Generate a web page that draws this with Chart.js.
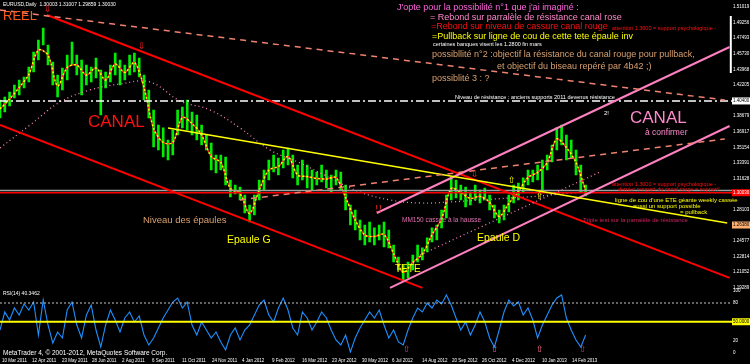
<!DOCTYPE html>
<html>
<head>
<meta charset="utf-8">
<script src="https://cdn.jsdelivr.net/npm/chart.js@4.4.1/dist/chart.umd.min.js"></script>
<style>
  html, body { margin: 0; padding: 0; background: #000; }
  #wrap { width: 750px; height: 364px; }
</style>
</head>
<body>
<div id="wrap"><canvas id="eurusd" width="750" height="364"></canvas></div>
<script>
// EURUSD Daily, mars 2011 -> fev 2013, one bar read every 4 days off the screenshot
var candleStep = 4;
var candleHigh = [
  1.4051,1.4085,1.4141,1.4220,1.4277,1.4311,1.4424,1.4593,1.4729,1.4865,
  1.4672,1.4480,1.4333,1.4412,1.4559,1.4706,1.4559,1.4503,1.4446,1.4424,
  1.4526,1.4390,1.4367,1.4446,1.4582,1.4503,1.4446,1.4559,1.4582,1.4526,
  1.4333,1.4164,1.3938,1.3768,1.3735,1.3599,1.3712,1.3938,1.3972,1.4051,
  1.3915,1.3881,1.3768,1.3655,1.3565,1.3429,1.3429,1.3407,1.3147,1.3090,
  1.3068,1.2977,1.2864,1.2977,1.3147,1.3260,1.3373,1.3429,1.3395,1.3486,
  1.3508,1.3429,1.3316,1.3373,1.3316,1.3260,1.3237,1.3316,1.3260,1.3203,
  1.3260,1.3237,1.3090,1.2864,1.2808,1.2695,1.2638,1.2672,1.2605,1.2638,
  1.2672,1.2582,1.2412,1.2277,1.2186,1.2220,1.2299,1.2412,1.2379,1.2492,
  1.2605,1.2638,1.2808,1.2977,1.3181,1.3147,1.3090,1.3068,1.3011,1.3090,
  1.3034,1.3056,1.2977,1.2864,1.2808,1.2864,1.2977,1.3090,1.3113,1.3170,
  1.3260,1.3260,1.3316,1.3373,1.3429,1.3542,1.3735,1.3768,1.3655,1.3599,
  1.3486,1.3316,1.3090
];
var candleLow = [
  1.3848,1.3915,1.3983,1.4073,1.4107,1.4187,1.4254,1.4367,1.4503,1.4672,
  1.4446,1.4220,1.4085,1.4164,1.4277,1.4446,1.4333,1.4107,1.4220,1.4254,
  1.4300,1.3881,1.4187,1.4254,1.4333,1.4220,1.4277,1.4333,1.4367,1.4311,
  1.4051,1.3848,1.3520,1.3486,1.3407,1.3373,1.3429,1.3655,1.3735,1.3712,
  1.3655,1.3599,1.3542,1.3486,1.3260,1.3226,1.3260,1.3090,1.2955,1.2989,
  1.2921,1.2774,1.2672,1.2751,1.2921,1.3034,1.3147,1.3237,1.3203,1.3283,
  1.3316,1.3170,1.3090,1.3147,1.3056,1.3034,1.3090,1.3124,1.3056,1.3011,
  1.3090,1.3034,1.2808,1.2638,1.2582,1.2469,1.2412,1.2446,1.2412,1.2469,
  1.2390,1.2379,1.2220,1.2130,1.2017,1.2040,1.2130,1.2220,1.2243,1.2333,
  1.2446,1.2469,1.2605,1.2718,1.2921,1.2943,1.2921,1.2842,1.2864,1.2921,
  1.2887,1.2921,1.2808,1.2718,1.2661,1.2695,1.2785,1.2887,1.2921,1.3011,
  1.3090,1.3124,1.3147,1.3034,1.3260,1.3350,1.3486,1.3542,1.3373,1.3395,
  1.3203,1.3011,1.2966
];

// moyenne mobile pointillee rouge/jaune, un point tous les 8 jours
var maStep = 8;
var maValues = [
  1.3950,1.4062,1.4192,1.4339,1.4616,1.4559,1.4209,1.4418,1.4446,1.4333,
  1.4413,1.4277,1.4458,1.4362,1.4475,1.4192,1.3729,1.3571,1.3571,1.3854,
  1.3785,1.3655,1.3413,1.3345,1.3051,1.2995,1.2768,1.3034,1.3260,1.3299,
  1.3412,1.3203,1.3186,1.3164,1.3158,1.3175,1.2949,1.2695,1.2525,1.2509,
  1.2531,1.2316,1.2102,1.2215,1.2311,1.2526,1.2707,1.3051,1.3006,1.2938,
  1.2961,1.2893,1.2735,1.2881,1.3017,1.3175,1.3232,1.3345,1.3611,1.3514,
  1.3345,1.3028
];

// MM150 (pointilles roses)
var mm150Days = [0,25,50,75,100,125,150,175,200,225,250,275,300,325,350,375,400,425,450,475,487];
var mm150Values = [1.3509,1.3768,1.4028,1.4164,1.4232,1.4254,1.4040,1.3938,1.3735,1.3486,
                   1.3339,1.3170,1.3011,1.2921,1.2887,1.2898,1.2921,1.2943,1.2966,1.3000,1.3011];

// oscillateur du bas (0-100), meme pas que les bougies
var oscValues = [
  36.8,65.6,52.8,72,60.8,78.4,68.8,81.6,28.8,84.8,
  44.8,16,33.6,24,68.8,81.6,44.8,24,60.8,76.8,
  36.8,9.6,44.8,68.8,52.8,33.6,56,65.6,49.6,59.2,
  28.8,12.8,24,40,56,68.8,81.6,88,72,81.6,
  44.8,28.8,49.6,36.8,24,33.6,17.6,4.8,28.8,40,
  20.8,36.8,44.8,60.8,76.8,84.8,60.8,49.6,72,88,
  68.8,40,28.8,65.6,56,36.8,49.6,65.6,56,36.8,
  20.8,12.8,28.8,1.6,24,40,52.8,65.6,56,68.8,
  44.8,24,36.8,17.6,12.8,36.8,56,72,65.6,80,
  72,84.8,78.4,92.8,76.8,56,36.8,49.6,28.8,44.8,
  65.6,49.6,24,9.6,36.8,65.6,84.8,75.2,81.6,60.8,
  72,52.8,24,44.8,60.8,76.8,88,92.8,56,36.8,
  20.8,9.6,28.8
];
var oscLevelHigh = 80;
var oscLevelMid = 50;

// lignes tracees (jour, prix)
var canalRougeHaut = [{x: 39, y: 1.5012}, {x: 608, y: 1.2040}];
var canalRougeBas  = [{x: 0, y: 1.3768}, {x: 352, y: 1.1927}];
var canalRoseHaut  = [{x: 314, y: 1.2774}, {x: 608, y: 1.4650}];
var canalRoseBas   = [{x: 325, y: 1.1927}, {x: 608, y: 1.3757}];
var ligneDeCou     = [{x: 140, y: 1.3735}, {x: 606, y: 1.2661}];
var tirets1        = [{x: 0, y: 1.5068}, {x: 604, y: 1.4051}];
var tirets2        = [{x: 200, y: 1.2921}, {x: 604, y: 1.3610}];
var eventailRose   = [{x: 350, y: 1.2299}, {x: 500, y: 1.3237}];
var barreBlanche   = [{x: 609, y: 1.5000}, {x: 609, y: 1.4356}];
var niveauBlanc = 1.4040;
var niveauGris = 1.3027;
var bid = 1.3003;
var niveauOrange = 1.2638;

var priceTicks = [1.51019,1.49256,1.47493,1.45730,1.43968,1.42205,1.40442,1.38679,1.36917,1.35154,
                  1.33391,1.31628,1.29865,1.28103,1.26340,1.24577,1.22814,1.21052,1.19289];
var oscTicks = [0, 20, 80, 100];
var dateLabels = ['10 Mar 2011','12 Apr 2011','23 May 2011','28 Jun 2011','2 Aug 2011','6 Sep 2011',
                  '11 Oct 2011','24 Nov 2011','4 Jan 2012','9 Feb 2012','16 Mar 2012','23 Apr 2012',
                  '30 May 2012','6 Jul 2012','14 Aug 2012','20 Sep 2012','26 Oct 2012','4 Dec 2012',
                  '10 Jan 2013','14 Feb 2013'];
var dateStep = 25;
var dayMax = 610;

var FONT = '"Liberation Sans", Arial, sans-serif';

function hline(v) { return [{x: 0, y: v}, {x: dayMax, y: v}]; }
function seg(data, color, width, dash, order) {
  return { type: 'line', data: data, borderColor: color, borderWidth: width, borderDash: dash || [],
           pointRadius: 0, fill: false, tension: 0, yAxisID: 'y', order: order || 2 };
}

var candles = candleHigh.map(function (h, i) { return {x: i * candleStep, y: [candleLow[i], h]}; });
var maPts = maValues.map(function (v, i) { return {x: i * maStep, y: v}; });
var mm150Pts = mm150Values.map(function (v, i) { return {x: mm150Days[i], y: v}; });
var oscPts = oscValues.map(function (v, i) { return {x: i * candleStep, y: v}; });

// textes poses sur le graphique : [texte, x, y, couleur, taille]
var notes = [
  ['EURUSD,Daily  1.30003 1.31007 1.29859 1.30030', 3, 5, '#ffffff', 5],
  ['REEL', 3, 16, '#ff5a1e', 13],
  ['CANAL', 88, 122, '#ff1010', 17],
  ['Niveau des épaules', 143, 220, '#d8a070', 9.5],
  ['Epaule G', 227, 240, '#ffff00', 10.5],
  ['TETE', 395, 269, '#ffff00', 10],
  ['Epaule D', 477, 238, '#ffff00', 10.5],
  ['MM150 cassée à la hausse', 402, 220, '#e070b0', 6.5],
  ['CANAL', 630, 118, '#ff88cc', 17],
  ['à confirmer', 645, 133, '#ff88cc', 8.5],
  ["J'opte pour la possibilité n°1 que j'ai imaginé :", 397, 8, '#ff66dd', 9],
  ['= Rebond sur parralèle de résistance canal rose', 430, 18, '#ff88cc', 9],
  ['=Rebond sur niveau de cassure canal rouge', 431, 27, '#ff1010', 9],
  ['attention 1.3000 = support psychologique -', 612, 28, '#ff1010', 5.5],
  ['=Pullback sur ligne de cou de cette tete épaule inv', 432, 37, '#ffff00', 9],
  ['certaines banques visent les 1.2800 fin mars', 433, 44, '#ffffff', 5.5],
  ['possibllité n°2 :objectif la résistance du canal rouge pour pullback,', 432, 55, '#d8a070', 9],
  ['et objectif du biseau repéré par 4b42 ;)', 497, 67, '#d8a070', 9],
  ['possiblité 3 : ?', 432, 79, '#d8a070', 9],
  ['Niveau de résistance : anciens supports 2011 devenus résistance', 455, 97, '#ffffff', 5.5],
  ['2!', 604, 113, '#ffffff', 6],
  ['attention 1.3000 = support psychologique -', 612, 184, '#ff1010', 5.5],
  ['dernier rempart du canal rouge = support!', 618, 189, '#ff1010', 5.5],
  ["ligne de cou d'une ETE géante weekly cassée", 615, 200, '#ffff00', 6],
  ['aussi un support possible', 633, 206, '#ffff00', 6],
  ['= pullback', 680, 212, '#ffff00', 6],
  ['Triple test sur la parralèle de résistance', 583, 220, '#d02060', 6],
  ['RSI(14) 40.3462', 3, 294, '#ffffff', 5],
  ['MetaTrader 4, © 2001-2012, MetaQuotes Software Corp.', 3, 353, '#ffffff', 6.5]
];
// fleches MT4 : [glyphe, x, y, couleur]
var arrows = [
  ['⇩', 44, 10, '#ff2020'], ['⇩', 138, 47, '#ff2020'], ['⇩', 471, 175, '#ff2020'],
  ['⇧', 508, 181, '#ffff00'], ['⇧', 536, 197, '#ffff00'], ['!!', 375, 210, '#ff3030'],
  ['⇧', 403, 350, '#c04090'], ['⇧', 491, 350, '#ff60a0'], ['⇧', 536, 350, '#ff7090'], ['⇧', 579, 350, '#c04070']
];

var mt4Overlay = {
  id: 'mt4Overlay',
  afterDraw: function (chart) {
    var ctx = chart.ctx;
    var ys = chart.scales.y, y2s = chart.scales.y2;
    ctx.save();
    ctx.textBaseline = 'middle';
    ctx.textAlign = 'left';
    notes.forEach(function (n) {
      ctx.font = n[4] + 'px ' + FONT;
      ctx.fillStyle = n[3];
      ctx.fillText(n[0], n[1], n[2]);
    });
    ctx.font = '9px "DejaVu Sans", sans-serif';
    arrows.forEach(function (a) {
      ctx.fillStyle = a[3];
      ctx.fillText(a[0], a[1], a[2]);
    });
    // etiquettes colorees sur l'axe des prix
    var tags = [
      [ys.getPixelForValue(niveauBlanc), '#ffffff', '#000000', niveauBlanc.toFixed(5)],
      [ys.getPixelForValue(bid), '#ff0000', '#ffffff', bid.toFixed(5)],
      [ys.getPixelForValue(niveauOrange), '#ffb070', '#000000', niveauOrange.toFixed(5)],
      [y2s.getPixelForValue(oscLevelMid), '#ffff00', '#000000', oscLevelMid.toFixed(4)]
    ];
    ctx.font = '4.5px ' + FONT;
    tags.forEach(function (t) {
      ctx.fillStyle = t[1];
      ctx.fillRect(732, t[0] - 3.5, 18, 7);
      ctx.fillStyle = t[2];
      ctx.fillText(t[3], 733, t[0]);
    });
    ctx.restore();
  }
};

new Chart(document.getElementById('eurusd'), {
  type: 'bar',
  data: {
    datasets: [
      { type: 'bar', data: candles, backgroundColor: '#00ee00', barThickness: 2, yAxisID: 'y', order: 10 },
      { type: 'line', data: maPts, borderColor: '#ffff00', borderWidth: 1.5, borderDash: [2, 2],
        pointRadius: 0, tension: 0.3, yAxisID: 'y', order: 5 },
      { type: 'line', data: maPts, borderColor: '#ff2020', borderWidth: 1.5, borderDash: [2, 2], borderDashOffset: 2,
        pointRadius: 0, tension: 0.3, yAxisID: 'y', order: 5 },
      { type: 'line', data: mm150Pts, borderColor: '#ff80c0', borderWidth: 1.3, borderDash: [1, 3],
        pointRadius: 0, tension: 0.4, yAxisID: 'y', order: 4 },
      seg(hline(niveauBlanc), '#ffffff', 1.5, [8, 3, 2, 3], 3),
      seg(hline(niveauGris), '#a0a0a0', 1.5, null, 3),
      seg(hline(bid), '#ff0000', 1.5, null, 3),
      seg(tirets1, '#f08070', 1.5, [6, 5]),
      seg(tirets2, '#f08070', 1.5, [6, 5]),
      seg(eventailRose, '#ff80c0', 1.3, [1, 3]),
      seg(ligneDeCou, '#ffff00', 1.5),
      seg(canalRoseHaut, '#ff80c0', 2),
      seg(canalRoseBas, '#ff80c0', 2),
      seg(canalRougeHaut, '#ff0000', 2),
      seg(canalRougeBas, '#ff0000', 2),
      seg(barreBlanche, '#ffffff', 2),
      { type: 'line', data: oscPts, borderColor: '#1e90ff', borderWidth: 1.1, pointRadius: 0,
        tension: 0, yAxisID: 'y2', order: 3 },
      { type: 'line', data: [{x: 0, y: oscLevelHigh}, {x: dayMax, y: oscLevelHigh}], borderColor: '#c8c8c8',
        borderWidth: 1, borderDash: [2, 2], pointRadius: 0, yAxisID: 'y2', order: 2 },
      { type: 'line', data: [{x: 0, y: oscLevelMid}, {x: dayMax, y: oscLevelMid}], borderColor: '#ffff00',
        borderWidth: 2, pointRadius: 0, yAxisID: 'y2', order: 2 }
    ]
  },
  options: {
    responsive: false,
    animation: false,
    events: [],
    layout: { padding: 0, autoPadding: false },
    plugins: { legend: { display: false }, tooltip: { enabled: false } },
    scales: {
      x: {
        type: 'linear', min: 0, max: dayMax, offset: false,
        grid: { display: false, drawTicks: false }, border: { display: false },
        afterBuildTicks: function (s) {
          s.ticks = dateLabels.map(function (l, i) { return {value: i * dateStep}; });
        },
        afterFit: function (s) { s.height = 11; s.paddingLeft = 0; s.paddingRight = 0; },
        ticks: {
          autoSkip: false, maxRotation: 0, align: 'start', labelOffset: 2, padding: 5,
          color: '#ffffff', font: { size: 4.5, family: FONT },
          callback: function (v, i) { return dateLabels[i]; }
        }
      },
      y: {
        type: 'linear', position: 'right', stack: 'mt4', stackWeight: 290.5,
        min: 1.1898, max: 1.5181,
        grid: { display: false, drawTicks: false }, border: { display: false },
        afterBuildTicks: function (s) { s.ticks = priceTicks.map(function (v) { return {value: v}; }); },
        afterFit: function (s) { s.width = 18; s.paddingTop = 0; s.paddingBottom = 0; },
        ticks: { autoSkip: false, padding: 1, color: '#ffffff', font: { size: 4.5, family: FONT },
                 callback: function (v) { return Number(v).toFixed(5); } }
      },
      y2: {
        type: 'linear', position: 'right', stack: 'mt4', stackWeight: 62.5,
        min: 0, max: 100,
        grid: { display: false, drawTicks: false }, border: { display: false },
        afterBuildTicks: function (s) { s.ticks = oscTicks.map(function (v) { return {value: v}; }); },
        afterFit: function (s) { s.width = 18; s.paddingTop = 0; s.paddingBottom = 0; },
        ticks: { autoSkip: false, padding: 1, color: '#ffffff', font: { size: 4.5, family: FONT },
                 callback: function (v) { return String(v); } }
      }
    }
  },
  plugins: [mt4Overlay]
});
</script>
</body>
</html>
